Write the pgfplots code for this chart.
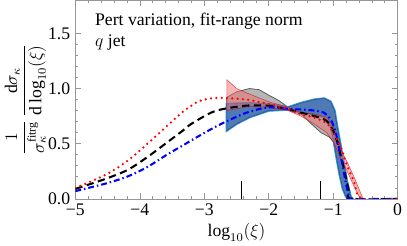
\documentclass[border=0pt]{standalone}
\usepackage{amsmath}
\usepackage{pgfplots}
\pgfplotsset{compat=1.18}
\usepackage{fontspec}
\setmainfont{Liberation Serif}
\definecolor{bandblue}{RGB}{78,122,182}
\definecolor{bandblueedge}{RGB}{60,80,115}
\definecolor{edgeblue}{RGB}{40,150,240}
\definecolor{bandred}{RGB}{240,110,110}
\definecolor{bandgray}{RGB}{120,120,120}
\definecolor{framegray}{RGB}{150,150,150}
\pgfplotstableread{
x y
-2.65 0.86
-2.3 0.87
-2.0 0.86
-1.7 0.83
-1.49 0.87
-1.29 0.90
-1.14 0.91
-1.04 0.88
-0.98 0.80
-0.94 0.66
-0.89 0.50
-0.84 0.33
-0.78 0.14
-0.73 0.02
-0.70 0
-0.76 0
-0.80 0.02
-0.85 0.09
-0.90 0.22
-0.95 0.38
-0.99 0.52
-1.04 0.66
-1.14 0.74
-1.29 0.76
-1.49 0.78
-1.7 0.81
-2.0 0.80
-2.3 0.74
-2.5 0.68
-2.65 0.62
}\blueband
\begin{document}
\begin{tikzpicture}
\begin{axis}[
  scale only axis, width=218.5pt, height=134.6pt,
  xmin=-5, xmax=0, ymin=0, ymax=1.8,
  xtick={-5,-4,-3,-2,-1,0},
  xticklabels={−5,−4,−3,−2,−1,0},
  ytick={0,0.5,1.0,1.5},
  yticklabels={0.0,0.5,1.0,1.5},
  minor x tick num=4, minor y tick num=4,
  tick align=inside,
  major tick length=4pt, minor tick length=2pt,
  axis line style={framegray},
  every tick/.style={framegray},
  tick label style={font=\fontsize{12}{14}\selectfont, black},
  label style={font=\fontsize{12}{14}\selectfont},
  xlabel={$\log_{10}(\xi)$},
  xlabel style={yshift=2pt},
  ylabel={$\dfrac{1}{\sigma_\kappa^{\mathrm{fitrg}}}\,\dfrac{\mathrm{d}\sigma_\kappa}{\mathrm{d}\log_{10}(\xi)}$},
  ylabel style={at={(axis description cs:-0.075,0.5)}, anchor=south},
  clip=true,
]
% gray band
\addplot[draw=bandgray!70!black, fill=bandgray, fill opacity=0.55, line width=0.5pt] coordinates {
(-2.65,0.92) (-2.5,0.97) (-2.3,1.0) (-2.15,0.99) (-2.0,0.94) (-1.84,0.89) (-1.7,0.83) (-1.5,0.80) (-1.3,0.77) (-1.1,0.73) (-1.0,0.65) (-0.94,0.53) (-0.86,0.36) (-0.80,0.22) (-0.74,0.06) (-0.71,0.0)
(-0.76,0.0) (-0.81,0.10) (-0.89,0.25) (-0.94,0.40) (-0.99,0.51) (-1.06,0.56) (-1.19,0.60) (-1.34,0.68) (-1.49,0.765) (-1.7,0.81) (-2.0,0.83) (-2.3,0.82) (-2.65,0.78)
} -- cycle;
% blue band: outer light glow then inner fill
\addplot[draw=edgeblue, line width=1.6pt, fill=edgeblue] table {\blueband} -- cycle;
\addplot[draw=bandblueedge, line width=0.4pt, fill=bandblue] table {\blueband} -- cycle;
% red band
\addplot[draw=red!80!black, draw opacity=0.6, fill=bandred, fill opacity=0.5, line width=0.4pt] coordinates {
(-2.65,1.08) (-2.5,1.0) (-2.3,0.95) (-2.0,0.88) (-1.7,0.83) (-1.5,0.78) (-1.3,0.77) (-1.1,0.74) (-1.0,0.66) (-0.92,0.52) (-0.86,0.42) (-0.78,0.33) (-0.67,0.19) (-0.55,0.02) (-0.53,0)
(-0.58,0.0) (-0.69,0.13) (-0.80,0.27) (-0.86,0.33) (-0.92,0.42) (-1.0,0.52) (-1.1,0.60) (-1.3,0.68) (-1.5,0.75) (-1.7,0.80) (-2.0,0.83) (-2.3,0.84) (-2.65,0.80)
} -- cycle;
% black dashed
\addplot[black, line width=1.4pt, dash pattern=on 5pt off 3pt, smooth] coordinates {
(-5,0.09) (-4.79,0.13) (-4.49,0.19) (-4.18,0.265) (-3.88,0.38) (-3.58,0.51) (-3.33,0.62) (-3.2,0.68) (-2.9,0.78) (-2.7,0.815) (-2.35,0.845) (-2.0,0.845) (-1.84,0.83) (-1.69,0.81) (-1.49,0.78) (-1.29,0.75) (-1.11,0.71) (-1.01,0.63) (-0.94,0.52) (-0.86,0.34) (-0.81,0.21) (-0.76,0.08) (-0.72,0.0) (0,0)
};
% blue dash-dot
\addplot[blue, line width=1.4pt, dash pattern=on 4pt off 2pt on 1pt off 2pt, smooth] coordinates {
(-5,0.07) (-4.79,0.10) (-4.49,0.145) (-4.18,0.205) (-3.88,0.29) (-3.58,0.40) (-3.33,0.485) (-3.2,0.53) (-2.9,0.63) (-2.7,0.69) (-2.35,0.78) (-2.0,0.83) (-1.69,0.815) (-1.49,0.81) (-1.29,0.80) (-1.14,0.78) (-1.04,0.72) (-0.96,0.60) (-0.91,0.46) (-0.86,0.32) (-0.81,0.16) (-0.76,0.03) (-0.73,0) (0,0)
};
% red dotted
\addplot[red, line width=1.7pt, line cap=round, dash pattern=on 0pt off 3.6pt, smooth] coordinates {
(-5,0.10) (-4.79,0.15) (-4.49,0.23) (-4.18,0.35) (-3.88,0.50) (-3.58,0.66) (-3.33,0.79) (-3.10,0.88) (-2.90,0.91) (-2.70,0.915) (-2.35,0.90) (-2.0,0.86) (-1.84,0.835) (-1.69,0.81) (-1.49,0.765) (-1.29,0.735) (-1.09,0.68) (-0.99,0.59) (-0.89,0.48) (-0.79,0.31) (-0.68,0.16) (-0.56,0.0) (0,0)
};
% vertical markers
\addplot[black, line width=0.8pt] coordinates {(-2.42,0) (-2.42,0.16)};
\addplot[black, line width=0.8pt] coordinates {(-1.2,0) (-1.2,0.16)};
\node[anchor=north west, align=left, font=\fontsize{12}{14}\selectfont] at (axis description cs:0.045,0.96) {Pert variation, fit-range norm\\$q$ jet};
\end{axis}
\end{tikzpicture}
\end{document}
